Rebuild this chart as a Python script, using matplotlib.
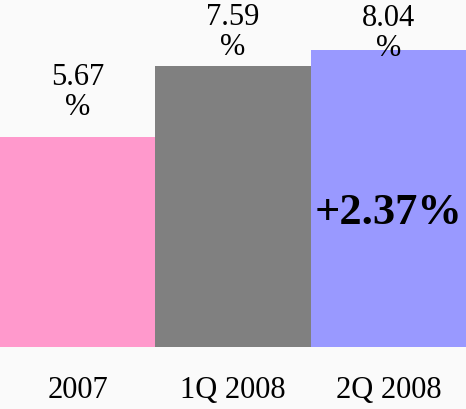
import matplotlib.pyplot as plt

periods = ['2007', '1Q 2008', '2Q 2008']
rates = [5.67, 7.59, 8.04]
colors = ['#ff99cc', '#808080', '#9999ff']
label_offsets = [11, 3, -9.5]  # points above bar top

plt.rcParams['font.family'] = ['Liberation Serif', 'DejaVu Serif']

fig = plt.figure(figsize=(4.66, 4.09), dpi=100, facecolor='#fafafa')
ax = fig.add_axes([0, (409 - 347) / 409, 1, 347 / 409])
ax.set_facecolor('#fafafa')

x = range(len(periods))
ax.bar(x, rates, width=1.0, color=colors)

for i, v in enumerate(rates):
    ax.annotate('%.2f\n%%' % v, xy=(i, v), xytext=(0, label_offsets[i]),
                textcoords='offset points', ha='center', va='bottom',
                fontsize=22, linespacing=1.05)

ax.text(2, 3.62, '+%.2f%%' % (rates[2] - rates[0]), ha='center', va='center',
        fontsize=32, fontweight='bold')

ax.set_xlim(-0.5, 2.5)
ax.set_ylim(0, 347 / 37)
ax.set_xticks(list(x))
ax.set_xticklabels(periods, fontsize=22)
ax.tick_params(axis='x', length=0, pad=21)
ax.set_yticks([])
for s in ax.spines.values():
    s.set_visible(False)

plt.savefig('out.png', dpi=100, facecolor='#fafafa')
